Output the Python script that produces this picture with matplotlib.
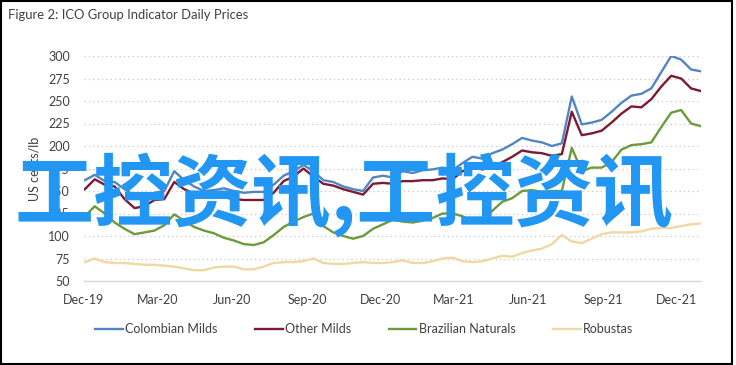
import pandas as pd
import matplotlib
matplotlib.use('Agg')
import matplotlib.pyplot as plt
from matplotlib.patches import Rectangle

# values, roughly every 10 days, Dec-2019 .. Dec-2021
colombian = [162, 168, 161, 160, 152, 145, 143, 148, 150, 172, 162, 155, 150, 151, 153, 150,
             148, 149, 149, 157, 167, 172, 179, 172, 162, 160, 155, 152, 150, 165, 167, 165,
             172, 170, 173, 174, 176, 173, 181, 188, 186, 192, 196, 202, 209, 206, 204, 200,
             203, 255, 224, 226, 229, 238, 248, 256, 258, 264, 282, 300, 296, 285, 283]
other = [152, 163, 157, 155, 141, 131, 133, 140, 141, 160, 152, 147, 143, 143, 143, 141,
         140, 140, 140, 148, 161, 166, 175, 166, 158, 156, 152, 149, 146, 158, 159, 158,
         161, 161, 162, 162, 164, 163, 172, 176, 174, 177, 182, 188, 195, 193, 192, 189,
         191, 238, 212, 214, 217, 226, 236, 244, 243, 252, 266, 278, 275, 264, 261]
brazilian = [122, 133, 125, 115, 108, 102, 104, 106, 112, 124, 117, 110, 106, 103, 98, 95,
             91, 90, 93, 101, 110, 116, 121, 125, 111, 104, 100, 97, 100, 108, 113, 118,
             116, 115, 117, 120, 125, 125, 122, 116, 117, 128, 138, 142, 150, 151, 149, 150,
             150, 198, 172, 176, 176, 182, 196, 201, 202, 204, 221, 237, 240, 225, 222]
robustas = [71, 75, 71, 70, 70, 69, 68, 68, 67, 66, 64, 62, 62, 65, 66, 66,
            63, 63, 66, 70, 71, 71, 72, 75, 70, 69, 69, 70, 71, 70, 70, 71,
            73, 70, 70, 72, 75, 76, 72, 71, 72, 75, 78, 77, 81, 84, 86, 91,
            101, 94, 92, 97, 102, 104, 104, 104, 105, 108, 109, 109, 111, 113, 114]

dates = pd.date_range('2019-12-02', '2021-12-31', periods=len(colombian))
tick_dates = pd.date_range('2019-12-01', '2021-12-01', freq='3MS')
tick_labels = [d.strftime('%b-%y') for d in tick_dates]

series = [
    ('Colombian Milds', colombian, '#5585c0'),
    ('Other Milds', other, '#7b1a30'),
    ('Brazilian Naturals', brazilian, '#6b9b3a'),
    ('Robustas', robustas, '#efd8a2'),
]

plt.rcParams['font.family'] = ['Lato', 'DejaVu Sans']

fig = plt.figure(figsize=(7.36, 3.65), dpi=100)
ax = fig.add_axes([84 / 736, 1 - 281 / 365, 617 / 736, 225 / 365])

for name, vals, col in series[::-1]:
    ax.plot(dates, vals, color=col, lw=1.7, label=name)

ax.set_ylim(50, 300)
ax.set_yticks(range(50, 301, 25))
ax.set_xlim(pd.Timestamp('2019-12-01'), pd.Timestamp('2021-12-31'))
ax.set_xticks(tick_dates)
ax.set_xticklabels(tick_labels)
ax.grid(axis='y', color='#c8c8c8', ls=(0, (1, 2.5)), lw=0.9)
for s in ['top', 'right', 'left']:
    ax.spines[s].set_visible(False)
ax.spines['bottom'].set_color('#d9d9d9')
ax.spines['bottom'].set_linewidth(1.0)
ax.tick_params(length=0, labelsize=9, labelcolor='#404040')
ax.tick_params(axis='x', pad=9)
ax.tick_params(axis='y', pad=10)
ax.set_ylabel('US cents/lb', fontsize=9, color='#404040', labelpad=6)

fig.text(8 / 736, 1 - 15 / 365, 'Figure 2: ICO Group Indicator Daily Prices',
         fontsize=9.4, color='#404040', va='center', ha='left')

handles, labels = ax.get_legend_handles_labels()
fig.legend(handles[::-1], labels[::-1], loc='center', bbox_to_anchor=(0.495, 1 - 329 / 365),
           ncol=4, frameon=False, fontsize=9, handlelength=2.2, handletextpad=0.2,
           columnspacing=3.0, labelcolor='#404040')

# watermark overlaid on the chart
fig.text(344 / 736, 1 - 195 / 365, '工控资讯,工控资讯', fontsize=57, color='#2196f3',
         family=['Noto Sans CJK SC', 'DejaVu Sans'], weight='bold',
         ha='center', va='center', zorder=10)

fig.patches.append(Rectangle((0.002, 0.004), 0.993, 0.993, transform=fig.transFigure,
                             fill=False, edgecolor='black', lw=1.5))

fig.savefig('out.png', dpi=100)
